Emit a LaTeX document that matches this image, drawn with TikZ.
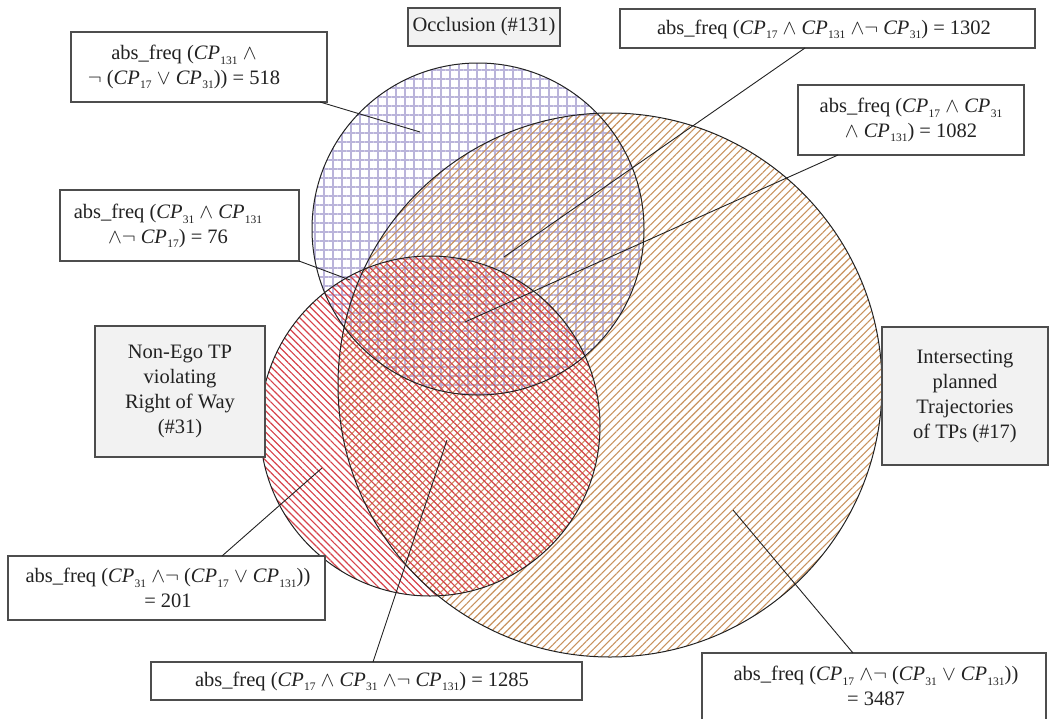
\documentclass[tikz,border=0pt]{standalone}
\usepackage{fontspec}
\setmainfont{Liberation Serif}
\usetikzlibrary{patterns.meta}
% italic CP with a small, lowered index
\newcommand{\CP}[1]{\textit{CP}\kern0.3pt\raisebox{-0.45ex}{\fontsize{11.5}{11.5}\selectfont #1}}
\definecolor{gridblue}{HTML}{BAB4DA}
\definecolor{hatchorange}{HTML}{C8925E}
\definecolor{hatchred}{HTML}{D6424A}
\definecolor{boxgray}{HTML}{F2F2F2}
\definecolor{edgegray}{HTML}{4D4D4D}
\definecolor{inkdark}{HTML}{222222}

\begin{document}
\begin{tikzpicture}[x=1pt,y=-1pt,
  wbox/.style={draw=edgegray, line width=1.1pt, fill=white, rectangle,
    outer sep=0pt, inner sep=0pt, align=center, text=inkdark,
    font=\fontsize{20.5}{24.5}\selectfont},
  gbox/.style={wbox, fill=boxgray, font=\fontsize{20.5}{25}\selectfont},
  txt/.style={font=\fontsize{20.5}{24.5}\selectfont, align=center, inner sep=0pt, text=inkdark},
  conn/.style={line width=0.9pt, draw=inkdark},
  ring/.style={draw=inkdark, line width=1pt},
]
\useasboundingbox (0,0) rectangle (1052,718);

% set fills: occlusion grid, trajectory hatch, right-of-way hatch
\fill[pattern={Hatch[angle=0,distance=9pt,line width=1.2pt]}, pattern color=gridblue]
  (478,229) circle[radius=166pt];
\fill[pattern={Lines[angle=45,distance=5.3pt,line width=1.1pt]}, pattern color=hatchorange]
  (610,385) circle[radius=272pt];
\fill[pattern={Lines[angle=-45,distance=5pt,line width=1.2pt]}, pattern color=hatchred]
  (430,426) circle[radius=170pt];

% set outlines
\draw[ring] (478,229) circle[radius=166pt];
\draw[ring] (610,385) circle[radius=272pt];
\draw[ring] (430,426) circle[radius=170pt];

% label boxes
\node[gbox, minimum width=152pt, minimum height=38pt] (occ) at (484,27) {Occlusion (\#131)};
\node[gbox, minimum width=170pt, minimum height=131pt] (nonego) at (180,391.5)
  {Non-Ego TP\\violating\\Right of Way\\(\#31)};
\node[gbox, minimum width=166pt, minimum height=138pt] (inter) at (965,396)
  {Intersecting\\planned\\Trajectories\\of TPs (\#17)};

\node[wbox, minimum width=256pt, minimum height=70pt] (b518) at (199,67) {};
\node[wbox, minimum width=415pt, minimum height=39pt] (b1302) at (827.5,28.5) {};
\node[wbox, minimum width=226pt, minimum height=70pt] (b1082) at (911,120) {};
\node[wbox, minimum width=239pt, minimum height=71pt] (b76) at (179.5,225.5) {};
\node[wbox, minimum width=317pt, minimum height=64pt] (b201) at (166.5,588) {};
\node[wbox, minimum width=431pt, minimum height=38pt] (b1285) at (366.5,681) {};
\node[wbox, minimum width=344pt, minimum height=87pt] (b3487) at (874,696.5) {};

% region points and leader lines
\coordinate (e518) at (420,132);
\coordinate (e1302) at (504,257);
\coordinate (e1082) at (465,322);
\coordinate (e76) at (350,280);
\coordinate (e201) at (322,468);
\coordinate (e1285) at (447,440);
\coordinate (e3487) at (733,510);

\draw[conn] ([xshift=-7pt]b518.south east) -- (e518);
\draw[conn] ([xshift=-22.5pt]b1302.south) -- (e1302);
\draw[conn] ([xshift=-73pt]b1082.south) -- (e1082);
\draw[conn] (b76.south east) -- (e76);
\draw[conn] ([xshift=55.5pt]b201.north) -- (e201);
\draw[conn] ([xshift=6.5pt]b1285.north) -- (e1285);
\draw[conn] ([xshift=-21pt]b3487.north) -- (e3487);

% box texts
\node[txt] (t518) at (184,67)
  {abs\_freq (\CP{131} $\wedge$\\$\neg$ (\CP{17} $\vee$ \CP{31})) = 518};
\node[txt] (t1302) at (824,29)
  {abs\_freq (\CP{17} $\wedge$ \CP{131} $\wedge\neg$ \CP{31}) = 1302};
\node[txt] (t1082) at (911,120)
  {abs\_freq (\CP{17} $\wedge$ \CP{31}\\$\wedge$ \CP{131}) = 1082};
\node[txt] (t76) at (168,226)
  {abs\_freq (\CP{31} $\wedge$ \CP{131}\\$\wedge\neg$ \CP{17}) = 76};
\node[txt] (t201) at (168,588)
  {abs\_freq (\CP{31} $\wedge\neg$ (\CP{17} $\vee$ \CP{131}))\\= 201};
\node[txt] (t1285) at (362,681)
  {abs\_freq (\CP{17} $\wedge$ \CP{31} $\wedge\neg$ \CP{131}) = 1285};
\node[txt] (t3487) at (876,686)
  {abs\_freq (\CP{17} $\wedge\neg$ (\CP{31} $\vee$ \CP{131}))\\= 3487};
\end{tikzpicture}
\end{document}
